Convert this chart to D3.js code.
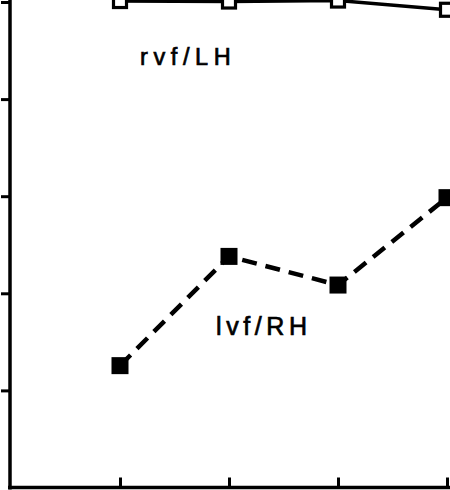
<!DOCTYPE html>
<html><head><meta charset="utf-8">
<script src="https://cdn.jsdelivr.net/npm/d3@7"></script>
<style>html,body{margin:0;padding:0;background:#fff;}svg{display:block;}</style>
</head><body>
<script>
const conditions = [1, 2, 3, 4];
const rvfLH = [100.2, 100.1, 100.3, 98.4];
const lvfRH = [25.1, 47.6, 41.7, 59.7];
const yTicks = [20, 40, 60, 80, 100];
const xTicks = [1, 2, 3, 4];
const seriesLabels = ["rvf/LH", "lvf/RH"];

const W = 450, H = 490;
const svg = d3.select("body").append("svg").attr("width", W).attr("height", H);
const x = d3.scaleLinear().domain([0, 4]).range([11, 447]);
const y = d3.scaleLinear().domain([0, 100]).range([487.5, 2]);

// left axis
const ya = svg.append("g").attr("transform", `translate(${x(0) - 1},0)`)
  .call(d3.axisLeft(y).tickValues(yTicks).tickSize(9).tickFormat(""));
ya.select(".domain").attr("d", `M0,${y(100) - 4}V${y(0) + 2}`).attr("stroke", "#000").attr("stroke-width", 3.5);
ya.selectAll(".tick line").attr("stroke", "#000").attr("stroke-width", 3);

// bottom axis
const xa = svg.append("g").attr("transform", `translate(0,${y(0)})`)
  .call(d3.axisBottom(x).tickValues(xTicks).tickSize(-10).tickFormat(""));
xa.select(".domain").attr("d", `M${x(0) - 3},0H${W + 2}`).attr("stroke", "#000").attr("stroke-width", 3.5);
xa.selectAll(".tick line").attr("stroke", "#000").attr("stroke-width", 3);

const line = d3.line().x((d, i) => x(conditions[i])).y(d => y(d));

// rvf/LH solid with open squares
svg.append("path").datum(rvfLH).attr("d", line).attr("fill", "none")
  .attr("stroke", "#000").attr("stroke-width", 3.5);
svg.selectAll(".open").data(rvfLH).enter().append("rect")
  .attr("x", (d, i) => x(conditions[i]) - 6.5).attr("y", d => y(d) - 6.5)
  .attr("width", 13).attr("height", 13)
  .attr("fill", "#fff").attr("stroke", "#000").attr("stroke-width", 3.2);

// lvf/RH dashed with filled squares
svg.append("path").datum(lvfRH).attr("d", line).attr("fill", "none")
  .attr("stroke", "#000").attr("stroke-width", 4.5).attr("stroke-dasharray", "15,9");
svg.selectAll(".filled").data(lvfRH).enter().append("rect")
  .attr("x", (d, i) => x(conditions[i]) - 8.5).attr("y", d => y(d) - 8.5)
  .attr("width", 17).attr("height", 17).attr("fill", "#000");

// labels
svg.append("text").attr("x", 140).attr("y", 65).text(seriesLabels[0])
  .attr("font-family", "Liberation Sans, Arial, sans-serif").attr("font-size", 23.5)
  .attr("letter-spacing", 5.6).attr("fill", "#000")
  .attr("stroke", "#000").attr("stroke-width", 0.7);
svg.append("text").attr("x", 216).attr("y", 335).text(seriesLabels[1])
  .attr("font-family", "Liberation Sans, Arial, sans-serif").attr("font-size", 25)
  .attr("letter-spacing", 4.6).attr("fill", "#000")
  .attr("stroke", "#000").attr("stroke-width", 0.7);
</script>
</body></html>
